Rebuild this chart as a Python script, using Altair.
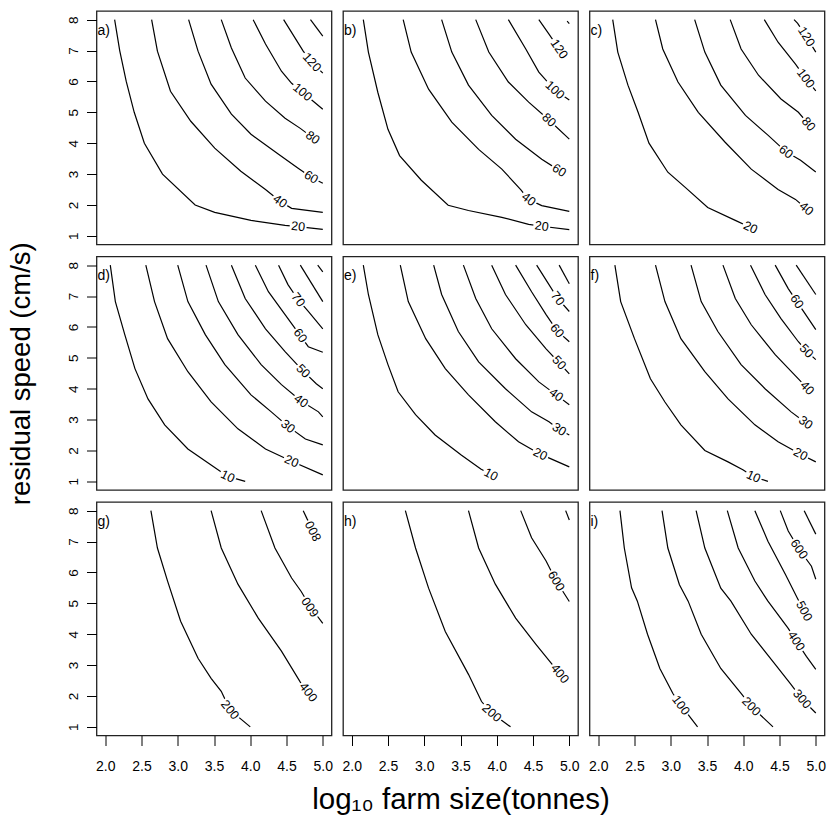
import math
import altair as alt
import pandas as pd

# ---------------- data ----------------
X_DOMAIN = [1.88, 5.12]
Y_DOMAIN = [0.72, 8.28]
X_TICKS = [2.0, 2.5, 3.0, 3.5, 4.0, 4.5, 5.0]
Y_TICKS = [1, 2, 3, 4, 5, 6, 7, 8]
PANEL_TAGS = ["a)", "b)", "c)", "d)", "e)", "f)", "g)", "h)", "i)"]
TAG_X = 1.88
TAG_Y = 8.0
X_TITLE = "log\u2081\u2080 farm size(tonnes)"
Y_TITLE = "residual speed (cm/s)"

A_LINES = {
    20: [(2.13, 8.0), (2.20, 7.0), (2.29, 6.0), (2.40, 5.0), (2.54, 4.0), (2.79, 3.0), (3.24, 2.0), (3.51, 1.76), (4.01, 1.50), (4.48, 1.34), (5.0, 1.21)],
    40: [(2.64, 8.0), (2.72, 6.98), (2.90, 5.68), (3.18, 4.71), (3.51, 3.84), (3.87, 3.09), (4.21, 2.50), (4.57, 1.89), (5.0, 1.76)],
    60: [(3.15, 8.0), (3.28, 6.98), (3.46, 5.91), (3.74, 4.94), (4.01, 4.29), (4.39, 3.64), (4.66, 3.19), (5.0, 2.70)],
    80: [(3.60, 8.0), (3.74, 7.08), (3.93, 6.11), (4.21, 5.36), (4.48, 4.81), (4.69, 4.48)],
    100: [(4.04, 8.0), (4.21, 7.21), (4.43, 6.33), (4.57, 5.94), (5.0, 5.10)],
    120: [(4.46, 8.0), (4.73, 6.98), (5.0, 6.27)],
    140: [(4.83, 8.0), (5.0, 7.47)],
}
A_LABELS = {20: (4.66, 1.30), 40: (4.41, 2.12), 60: (4.84, 2.90), 80: (4.86, 4.18), 100: (4.72, 5.65), 120: (4.85, 6.62)}

B_LINES = {
    20: [(2.16, 8.0), (2.23, 6.95), (2.36, 5.65), (2.50, 4.45), (2.66, 3.6), (2.96, 2.8), (3.33, 1.99), (3.61, 1.82), (4.07, 1.60), (4.44, 1.37), (5.0, 1.2)],
    40: [(2.71, 8.0), (2.82, 6.95), (3.06, 5.75), (3.38, 4.68), (3.75, 3.80), (4.07, 3.16), (4.33, 2.50), (4.62, 1.98), (5.0, 1.79)],
    60: [(3.24, 8.0), (3.38, 6.95), (3.61, 5.88), (3.93, 4.90), (4.26, 4.13), (4.62, 3.48)],
    80: [(3.71, 8.0), (3.89, 6.95), (4.16, 5.98), (4.44, 5.33), (5.0, 4.13)],
    100: [(4.16, 8.0), (4.40, 7.05), (4.58, 6.30), (5.0, 5.40)],
    120: [(4.58, 8.0), (4.72, 7.53)],
    140: [(4.97, 7.95), (5.0, 7.87)],
}
B_LABELS = {20: (4.62, 1.31), 40: (4.44, 2.18), 60: (4.86, 3.12), 80: (4.72, 4.75), 100: (4.80, 5.72), 120: (4.86, 7.05)}

C_LINES = {
    20: [(2.20, 8.0), (2.27, 6.95), (2.41, 5.88), (2.55, 5.0), (2.70, 4.0), (2.96, 3.06), (3.20, 2.57), (3.51, 1.92), (3.89, 1.50)],
    40: [(2.79, 8.0), (2.89, 7.05), (3.10, 5.98), (3.38, 5.0), (3.75, 4.03), (4.11, 3.16), (4.48, 2.50), (4.72, 2.18)],
    60: [(3.33, 8.0), (3.47, 6.95), (3.69, 5.88), (4.03, 4.90), (4.34, 4.26), (4.79, 3.45), (5.0, 3.07)],
    80: [(3.82, 8.0), (3.97, 7.05), (4.21, 6.2), (4.52, 5.43), (4.76, 5.0)],
    100: [(4.29, 8.0), (4.48, 7.27), (4.72, 6.56), (5.0, 5.69)],
    120: [(4.70, 8.0), (4.75, 7.88), (5.0, 6.95)],
}
C_LABELS = {20: (4.10, 1.27), 40: (4.87, 1.88), 60: (4.59, 3.72), 80: (4.90, 4.62), 100: (4.86, 6.10), 120: (4.87, 7.45)}

D_LINES = {
    10: [(2.07, 8.0), (2.14, 6.82), (2.27, 5.75), (2.41, 4.65), (2.59, 3.67), (2.82, 2.83), (3.14, 2.05), (3.46, 1.53), (3.93, 1.0)],
    20: [(2.56, 8.0), (2.68, 6.82), (2.86, 5.62), (3.14, 4.55), (3.46, 3.57), (3.83, 2.70), (4.21, 2.05), (5.0, 1.21)],
    30: [(3.0, 8.0), (3.14, 6.82), (3.38, 5.75), (3.65, 4.78), (4.01, 3.80), (4.29, 3.25), (4.76, 2.37), (5.0, 2.18)],
    40: [(3.39, 8.0), (3.56, 6.82), (3.83, 5.75), (4.15, 4.78), (4.43, 4.13), (4.94, 3.25), (5.0, 3.09)],
    50: [(3.74, 8.0), (3.93, 6.92), (4.21, 5.94), (4.48, 5.2), (4.91, 4.16), (5.0, 4.0)],
    60: [(4.07, 8.0), (4.25, 7.14), (4.48, 6.4), (4.80, 5.36), (5.0, 5.18)],
    70: [(4.39, 8.0), (4.52, 7.37), (4.80, 6.5), (5.0, 5.94)],
    80: [(4.69, 8.0), (5.0, 6.82)],
    90: [(4.93, 8.0), (5.0, 7.78)],
}
D_LABELS = {10: (3.69, 1.16), 20: (4.57, 1.65), 30: (4.52, 2.78), 40: (4.70, 3.60), 50: (4.73, 4.57), 60: (4.69, 5.72), 70: (4.66, 6.88)}

E_LINES = {
    10: [(2.16, 8.0), (2.23, 7.05), (2.36, 5.75), (2.50, 4.78), (2.64, 3.90), (2.88, 3.16), (3.15, 2.5), (3.51, 1.85), (3.78, 1.40)],
    20: [(2.67, 8.0), (2.78, 6.82), (3.02, 5.62), (3.29, 4.65), (3.61, 3.80), (3.98, 2.93), (4.30, 2.28), (5.0, 1.47)],
    30: [(3.13, 8.0), (3.24, 7.05), (3.47, 5.85), (3.75, 4.87), (4.12, 4.0), (4.48, 3.25), (4.72, 2.93), (5.0, 2.5)],
    40: [(3.54, 8.0), (3.71, 6.92), (3.93, 5.94), (4.26, 4.97), (4.58, 4.22), (5.0, 3.48)],
    50: [(3.93, 8.0), (4.12, 7.05), (4.40, 6.07), (4.68, 5.29), (5.0, 4.48)],
    60: [(4.26, 8.0), (4.48, 7.14), (4.68, 6.40), (5.0, 5.52)],
    70: [(4.55, 8.0), (4.72, 7.37), (5.0, 6.5)],
    80: [(4.86, 8.0), (5.0, 7.4)],
}
E_LABELS = {10: (3.92, 1.22), 20: (4.60, 1.88), 30: (4.86, 2.68), 40: (4.82, 3.80), 50: (4.86, 4.84), 60: (4.83, 5.88), 70: (4.84, 6.92)}

F_LINES = {
    10: [(2.23, 8.0), (2.31, 6.82), (2.50, 5.62), (2.72, 4.32), (2.92, 3.57), (3.14, 2.83), (3.47, 2.0), (3.79, 1.63), (4.0, 1.37), (4.34, 1.0)],
    20: [(2.79, 8.0), (2.92, 6.82), (3.14, 5.62), (3.47, 4.55), (3.79, 3.67), (4.16, 2.83), (4.48, 2.28), (5.0, 1.63)],
    30: [(3.28, 8.0), (3.42, 6.82), (3.65, 5.85), (3.97, 4.78), (4.30, 4.0), (4.66, 3.25)],
    40: [(3.72, 8.0), (3.89, 6.92), (4.11, 6.07), (4.44, 5.1), (4.76, 4.32)],
    50: [(4.10, 8.0), (4.30, 7.05), (4.52, 6.27), (4.76, 5.52), (5.0, 4.94)],
    60: [(4.44, 8.0), (4.62, 7.24), (5.0, 5.91)],
    70: [(4.73, 8.0), (5.0, 7.05)],
}
F_LABELS = {10: (4.14, 1.15), 20: (4.79, 1.88), 30: (4.86, 2.90), 40: (4.88, 4.02), 50: (4.87, 5.22), 60: (4.74, 6.82)}

G_LINES = {
    200: [(2.63, 8.0), (2.72, 6.79), (2.86, 5.72), (3.04, 4.42), (3.28, 3.22), (3.46, 2.57), (3.60, 2.15), (4.0, 1.0)],
    400: [(3.46, 8.0), (3.60, 6.79), (3.83, 5.62), (4.11, 4.52), (4.43, 3.45), (4.69, 2.45)],
    600: [(4.15, 8.0), (4.34, 6.79), (4.57, 5.82), (4.70, 5.39), (5.0, 4.35)],
    800: [(4.73, 8.0), (4.78, 7.75)],
}
G_LABELS = {200: (3.72, 1.55), 400: (4.80, 2.12), 600: (4.83, 4.88), 800: (4.87, 7.34)}
G_FLIPPED = [600, 800]

H_LINES = {
    200: [(2.74, 8.0), (2.88, 6.79), (3.06, 5.49), (3.29, 4.09), (3.61, 2.70), (3.79, 1.82), (4.19, 1.0)],
    400: [(3.61, 8.0), (3.75, 6.79), (3.98, 5.62), (4.26, 4.52), (4.54, 3.67), (4.75, 3.06)],
    600: [(4.33, 8.0), (4.48, 7.12), (4.68, 6.37), (5.0, 5.06)],
    800: [(4.95, 8.0), (5.0, 7.7)],
}
H_LABELS = {200: (3.93, 1.45), 400: (4.87, 2.72), 600: (4.82, 5.72)}

I_LINES = {
    100: [(2.30, 8.0), (2.36, 6.79), (2.46, 5.5), (2.54, 5.07), (2.68, 4.0), (2.85, 2.89), (3.03, 2.08), (3.37, 1.0)],
    200: [(2.88, 8.0), (2.96, 6.79), (3.12, 5.6), (3.24, 5.07), (3.42, 4.0), (3.69, 2.89), (3.97, 2.08), (4.41, 1.0)],
    300: [(3.35, 8.0), (3.47, 6.79), (3.69, 5.49), (3.83, 5.07), (4.11, 4.0), (4.44, 3.02), (4.66, 2.37), (5.0, 1.45)],
    400: [(3.78, 8.0), (3.93, 6.79), (4.16, 5.72), (4.34, 5.07), (4.62, 4.19), (4.87, 3.28), (5.0, 2.86)],
    500: [(4.16, 8.0), (4.34, 7.01), (4.58, 5.94), (4.75, 5.15)],
    600: [(4.51, 8.0), (4.62, 7.34), (4.94, 6.2), (5.0, 5.78)],
    700: [(4.84, 8.0), (5.0, 7.24)],
}
I_LABELS = {100: (3.14, 1.70), 200: (4.11, 1.66), 300: (4.81, 1.90), 400: (4.73, 3.78), 500: (4.84, 4.75), 600: (4.77, 6.75)}

PANELS = [
    (A_LINES, A_LABELS, []), (B_LINES, B_LABELS, []), (C_LINES, C_LABELS, []),
    (D_LINES, D_LABELS, []), (E_LINES, E_LABELS, []), (F_LINES, F_LABELS, []),
    (G_LINES, G_LABELS, G_FLIPPED), (H_LINES, H_LABELS, []), (I_LINES, I_LABELS, []),
]

# ---------------- layout / style ----------------
PANEL_W = 235
PANEL_H = 233.5
GAP = 11.5
FONT = "Liberation Sans"
LABEL_FS = 12.5


def frames(lines, labels, flipped):
    kx = PANEL_W / (X_DOMAIN[1] - X_DOMAIN[0])
    ky = PANEL_H / (Y_DOMAIN[1] - Y_DOMAIN[0])
    line_rows, lab_rows = [], []
    for level, pts in lines.items():
        allpts = list(pts)
        if level in labels:
            allpts.append(labels[level])
        allpts.sort(key=lambda p: p[0])
        for i, (x, y) in enumerate(allpts):
            line_rows.append({"level": level, "order": i, "x": x, "y": y})
        if level in labels:
            lp = labels[level]
            k = allpts.index(lp)
            a = allpts[k - 1] if k > 0 else allpts[k]
            b = allpts[k + 1] if k < len(allpts) - 1 else allpts[k]
            dx = (b[0] - a[0]) * kx
            dy = -(b[1] - a[1]) * ky
            ang = math.degrees(math.atan2(dy, dx))
            if level in flipped:
                ang += 180
            ang = ang % 360
            txt = str(level)
            w = 0.556 * LABEL_FS * len(txt) + 3
            half = 5.0 / (w / 2)
            shape = f"M-1,-{half:.3f}L1,-{half:.3f}L1,{half:.3f}L-1,{half:.3f}Z"
            lab_rows.append({"x": lp[0], "y": lp[1], "text": txt, "ang": ang,
                             "shape": shape, "size": w * w})
    return pd.DataFrame(line_rows), pd.DataFrame(lab_rows)


def make_panel(idx):
    lines, labels, flipped = PANELS[idx]
    row, col = divmod(idx, 3)
    ldf, tdf = frames(lines, labels, flipped)

    if row == 2:
        xaxis = alt.Axis(values=X_TICKS, format=".1f", tickSize=10, labelPadding=14,
                         labelFontSize=14, title=X_TITLE if col == 1 else None,
                         titleFontSize=29.5, titlePadding=12)
    else:
        xaxis = None
    if col == 0:
        yaxis = alt.Axis(values=Y_TICKS, format="d", tickSize=10, labelPadding=6,
                         labelFontSize=13.5, labelAngle=270, labelAlign="center",
                         labelBaseline="bottom",
                         title=Y_TITLE if row == 1 else None,
                         titleFontSize=27.5, titlePadding=31)
    else:
        yaxis = None

    xe = alt.X("x:Q", scale=alt.Scale(domain=X_DOMAIN, nice=False, zero=False), axis=xaxis)
    ye = alt.Y("y:Q", scale=alt.Scale(domain=Y_DOMAIN, nice=False, zero=False), axis=yaxis)

    line_layer = alt.Chart(ldf).mark_line(color="black", strokeWidth=1.2).encode(
        x=xe, y=ye, detail="level:N", order="order:Q")
    mask_layer = alt.Chart(tdf).mark_point(filled=True, fill="white", strokeWidth=0, opacity=1).encode(
        x=xe, y=ye,
        shape=alt.Shape("shape:N", scale=None),
        size=alt.Size("size:Q", scale=None),
        angle=alt.Angle("ang:Q", scale=None))
    text_layer = alt.Chart(tdf).mark_text(font=FONT, fontSize=LABEL_FS, color="black",
                                          align="center", baseline="middle").encode(
        x=xe, y=ye, text="text:N", angle=alt.Angle("ang:Q", scale=None))
    tag_df = pd.DataFrame([{"x": TAG_X, "y": TAG_Y, "tag": PANEL_TAGS[idx]}])
    tag_layer = alt.Chart(tag_df).mark_text(font=FONT, fontSize=14, color="black",
                                            align="left", baseline="top", dx=1, dy=4).encode(
        x=xe, y=ye, text="tag:N")
    return alt.layer(line_layer, mask_layer, text_layer, tag_layer).properties(
        width=PANEL_W, height=PANEL_H)


chart = alt.concat(*[make_panel(i) for i in range(9)], columns=3, spacing=GAP,
                   bounds="flush").properties(
    padding={"left": 6.5, "top": 10, "right": 0, "bottom": 0},
    background="white",
).configure_view(stroke="#222", strokeWidth=1.3).configure_axis(
    labelFont=FONT, titleFont=FONT, labelColor="black", tickColor="black",
    titleColor="black", titleFontWeight="normal", grid=False, domain=False, tickWidth=1)

chart.save("out.html", embed_options={"renderer": "svg", "actions": False})
